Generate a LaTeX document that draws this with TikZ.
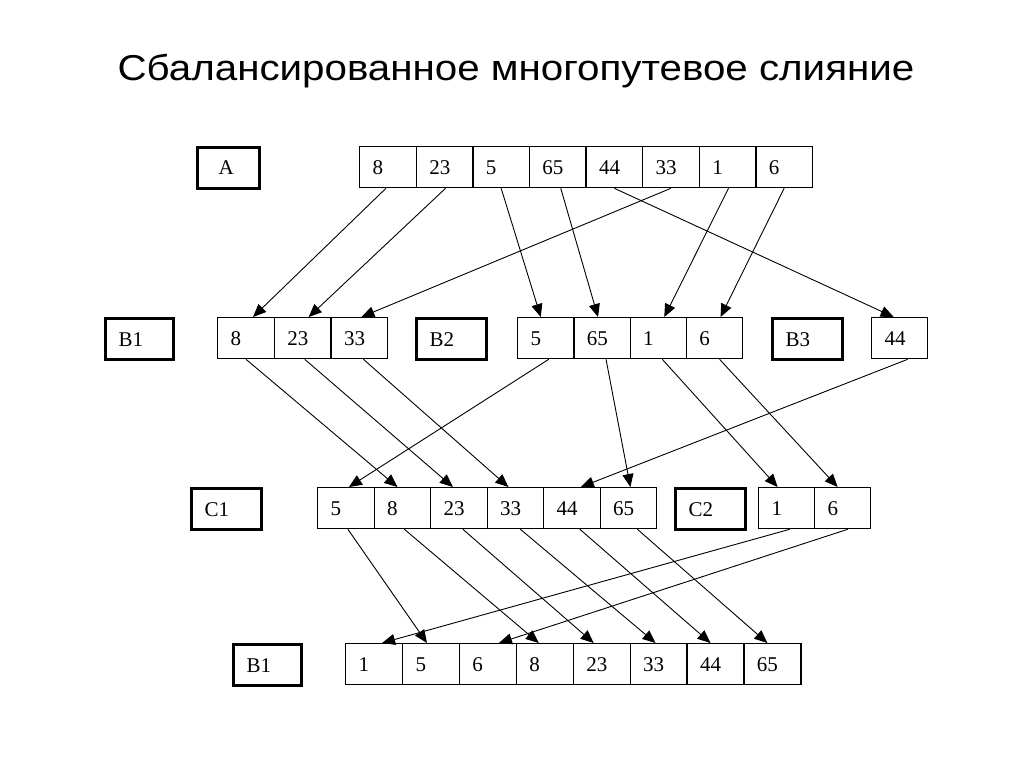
\documentclass[tikz,border=0pt]{standalone}
\usepackage{fontspec}
\setmainfont{Liberation Serif}
\newfontfamily\titlefont{Liberation Sans}
\usetikzlibrary{arrows.meta}
\tikzset{
  cell/.style={draw, line width=1.3pt, anchor=north west, minimum height=41pt,
    inner xsep=13pt, inner ysep=0pt, text width=#1-26pt, align=left,
    text height=14pt, text depth=0pt,
    font=\fontsize{21}{21}\selectfont},
  cell/.default=56.5pt,
  lbl/.style={draw, line width=3pt, anchor=north west, minimum height=41pt,
    inner xsep=13pt, inner ysep=0pt, text width=#1-26pt, align=left,
    text height=14pt, text depth=0pt,
    font=\fontsize{21}{21}\selectfont},
  lbl/.default=68pt,
  arr/.style={line width=0.9pt, -{Triangle[length=13pt,width=11pt]}}
}
\begin{document}
\begin{tikzpicture}[x=1pt,y=-1pt]
\useasboundingbox (0,0) rectangle (1024,767);
\node[font=\titlefont\fontsize{36}{36}\selectfont] (title) at (516,71) {\scalebox{1.12}[1]{Сбалансированное многопутевое слияние}};
% Row A
\node[lbl=52pt, inner xsep=21pt, text width=20pt] (la) at (196,146) {A};
\foreach \v [count=\i] in {8,23,5,65,44,33,1,6}
  \node[cell=56.6pt] (a\i) at ({359+56.6*(\i-1)},146) {\v};
% Row B
\node[lbl=68pt] (lb1) at (104,317) {B1};
\foreach \v [count=\i] in {8,23,33}
  \node[cell=56.7pt] (b\i) at ({217+56.7*(\i-1)},317) {\v};
\node[lbl=70pt] (lb2) at (415,317) {B2};
\foreach \v [count=\i] in {5,65,1,6}
  \node[cell=56.25pt] (c\i) at ({517+56.25*(\i-1)},317) {\v};
\node[lbl=70pt] (lb3) at (771,317) {B3};
\node[cell=56pt] (d1) at (871,317) {44};
% Row C
\node[lbl=70pt] (lc1) at (190,487) {C1};
\foreach \v [count=\i] in {5,8,23,33,44,65}
  \node[cell=56.5pt] (e\i) at ({317+56.5*(\i-1)},487) {\v};
\node[lbl=70pt] (lc2) at (674,487) {C2};
\foreach \v [count=\i] in {1,6}
  \node[cell=56pt] (f\i) at ({758+56*(\i-1)},487) {\v};
% Final row
\node[lbl=68pt] (lf) at (232,643) {B1};
\foreach \v [count=\i] in {1,5,6,8,23,33,44,65}
  \node[cell=56.9pt] (g\i) at ({345+56.9*(\i-1)},643) {\v};
% A -> B
\draw[arr] ([xshift=-2pt]a1.south) -- ([xshift=7pt]b1.north);
\draw[arr] ([xshift=1pt]a2.south) -- ([xshift=6pt]b2.north);
\draw[arr] (a6.south) -- ([xshift=2pt]b3.north);
\draw[arr] (a3.south) -- ([xshift=-5pt]c1.north);
\draw[arr] ([xshift=3pt]a4.south) -- ([xshift=-4pt]c2.north);
\draw[arr] (a5.south) -- ([xshift=-6pt]d1.north);
\draw[arr] ([xshift=1pt]a7.south) -- ([xshift=6pt]c3.north);
\draw[arr] (a8.south) -- ([xshift=6pt]c4.north);
% B -> C
\draw[arr] (b1.south) -- ([xshift=-5pt]e2.north);
\draw[arr] ([xshift=2pt]b2.south) -- ([xshift=-6pt]e3.north);
\draw[arr] ([xshift=4pt]b3.south) -- ([xshift=-7pt]e4.north);
\draw[arr] ([xshift=3pt]c1.south) -- ([xshift=3pt]e1.north);
\draw[arr] ([xshift=4pt]c2.south) -- ([xshift=2pt]e6.north);
\draw[arr] ([xshift=4pt]c3.south) -- ([xshift=-9pt]f1.north);
\draw[arr] ([xshift=5pt]c4.south) -- ([xshift=-5pt]f2.north);
\draw[arr] ([xshift=8pt]d1.south) -- ([xshift=9pt]e5.north);
% C -> final
\draw[arr] ([xshift=2pt]e1.south) -- ([xshift=-4pt]g2.north);
\draw[arr] ([xshift=2pt]e2.south) -- ([xshift=-6pt]g4.north);
\draw[arr] ([xshift=4pt]e3.south) -- ([xshift=-8pt]g5.north);
\draw[arr] ([xshift=5pt]e4.south) -- ([xshift=-3pt]g6.north);
\draw[arr] ([xshift=8pt]e5.south) -- ([xshift=-5pt]g7.north);
\draw[arr] ([xshift=9pt]e6.south) -- ([xshift=-5pt]g8.north);
\draw[arr] ([xshift=3pt]f1.south) -- ([xshift=8pt]g1.north);
\draw[arr] ([xshift=5pt]f2.south) -- ([xshift=11pt]g3.north);
\end{tikzpicture}
\end{document}
